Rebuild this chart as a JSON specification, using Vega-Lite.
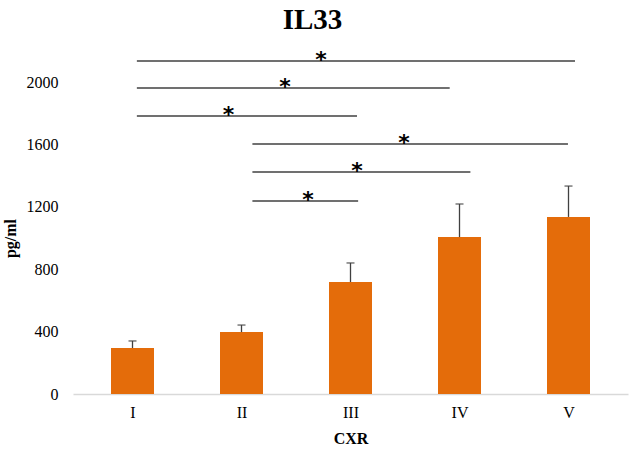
{
  "$schema": "https://vega.github.io/schema/vega-lite/v6.json",
  "width": 555,
  "height": 312,
  "autosize": {"type": "none"},
  "padding": {"left": 73, "right": 2, "top": 82, "bottom": 56},
  "background": "white",
  "title": {
    "text": "IL33",
    "font": "Liberation Serif",
    "fontSize": 29,
    "fontWeight": "bold",
    "color": "black",
    "anchor": "middle",
    "frame": "group",
    "dx": -38,
    "offset": 14
  },
  "config": {
    "view": {"stroke": null},
    "axis": {
      "labelFont": "Liberation Serif",
      "titleFont": "Liberation Serif",
      "labelFontSize": 16,
      "titleFontSize": 16,
      "labelColor": "black",
      "titleColor": "black",
      "grid": false,
      "ticks": false,
      "tickSize": 0
    }
  },
  "data": {
    "values": [
      {"cxr": 1, "mean": 295, "upper": 340},
      {"cxr": 2, "mean": 397, "upper": 442},
      {"cxr": 3, "mean": 718, "upper": 840},
      {"cxr": 4, "mean": 1006, "upper": 1218},
      {"cxr": 5, "mean": 1135, "upper": 1333}
    ]
  },
  "layer": [
    {
      "mark": {"type": "bar", "size": 43, "color": "#E46C0A"},
      "encoding": {
        "x": {
          "field": "cxr",
          "type": "quantitative",
          "scale": {"domain": [0.5, 5.5], "nice": false, "zero": false},
          "axis": {
            "title": "CXR",
            "titleFont": "Liberation Serif",
            "titleFontWeight": "bold",
            "titlePadding": 10,
            "values": [1, 2, 3, 4, 5],
            "labelFont": "Liberation Serif",
            "labelExpr": "['','I','II','III','IV','V'][datum.value]",
            "labelPadding": 10,
            "domainColor": "#d9d9d9",
            "domainWidth": 1.5
          }
        },
        "y": {
          "field": "mean",
          "type": "quantitative",
          "scale": {"domain": [0, 2000], "nice": false},
          "axis": {
            "title": "pg/ml",
            "titleFont": "Liberation Serif",
            "titleFontWeight": "bold",
            "titlePadding": 8,
            "values": [0, 400, 800, 1200, 1600, 2000],
            "format": "d",
            "labelFont": "Liberation Serif",
            "domain": false,
            "labelPadding": 15
          }
        }
      }
    },
    {
      "mark": {"type": "rule", "color": "#404040", "strokeWidth": 1.3},
      "encoding": {
        "x": {"field": "cxr", "type": "quantitative"},
        "y": {"field": "mean", "type": "quantitative"},
        "y2": {"field": "upper"}
      }
    },
    {
      "mark": {"type": "tick", "orient": "horizontal", "size": 8, "thickness": 1.5, "color": "#404040"},
      "encoding": {
        "x": {"field": "cxr", "type": "quantitative"},
        "y": {"field": "upper", "type": "quantitative"}
      }
    },
    {
      "data": {
        "values": [
          {"from": 1.04, "to": 5.06, "level": 2135, "star_x": 2.73},
          {"from": 1.04, "to": 3.91, "level": 1962, "star_x": 2.4},
          {"from": 1.04, "to": 3.06, "level": 1782, "star_x": 1.88},
          {"from": 2.1, "to": 4.995, "level": 1603, "star_x": 3.49},
          {"from": 2.1, "to": 4.1, "level": 1423, "star_x": 3.06},
          {"from": 2.1, "to": 3.07, "level": 1237, "star_x": 2.61}
        ]
      },
      "layer": [
        {
          "mark": {"type": "rule", "color": "#404040", "strokeWidth": 1.5},
          "encoding": {
            "x": {"field": "from", "type": "quantitative"},
            "x2": {"field": "to"},
            "y": {"field": "level", "type": "quantitative"}
          }
        },
        {
          "mark": {"type": "text", "text": "*", "font": "DejaVu Sans", "fontSize": 22, "fontWeight": "bold", "color": "black", "baseline": "alphabetic", "dy": 6},
          "encoding": {
            "x": {"field": "star_x", "type": "quantitative"},
            "y": {"field": "level", "type": "quantitative"}
          }
        }
      ]
    }
  ]
}
